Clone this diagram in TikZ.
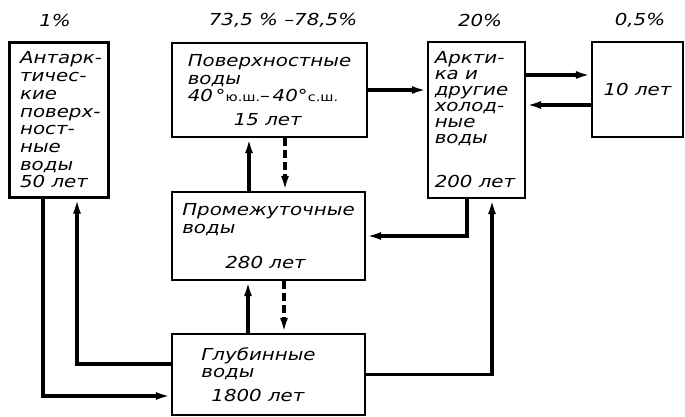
\documentclass[tikz,border=0pt]{standalone}
\usepackage{fontspec}
\newfontfamily\hand[FakeStretch=1.2]{DejaVu Sans}
\usetikzlibrary{arrows.meta}

\begin{document}
\begin{tikzpicture}[x=1pt, y=-1pt, >=latex,
          font=\hand\itshape\fontsize{16.5}{17.7}\selectfont,
          box/.style={draw, line width=2.2pt, align=left, inner sep=0pt, minimum width=#1},
          pct/.style={inner sep=0pt},
          flow/.style={line width=3.2pt, -{Latex[length=15pt,width=8pt]}},
          back/.style={flow, dash pattern=on 8pt off 4pt}]
        \useasboundingbox (0,0) rectangle (685,417);
        % boxes
        \node[box=99pt, minimum height=155pt] (ant) at (59,120)
          {\hspace*{4pt}Антарк-\\\hspace*{4pt}тичес-\\\hspace*{4pt}кие\\\hspace*{4pt}поверх-\\\hspace*{4pt}ност-\\\hspace*{4pt}ные\\\hspace*{4pt}воды\\\hspace*{4pt}50 лет};
        \node[box=195pt, minimum height=94pt] (surf) at (269.5,90)
          {Поверхностные\\воды\\40\,°{\fontsize{12}{14}\selectfont\upshape ю.ш.}–\,40°{\fontsize{12}{14}\selectfont\upshape с.ш.}\\[6pt]\hspace*{46pt}15 лет};
        \node[box=97pt, minimum height=156pt, font=\hand\itshape\fontsize{16.5}{16}\selectfont] (arc) at (476.5,120)
          {Аркти-\\ка и\\другие\\холод-\\ные\\воды\\[28pt]200 лет\hspace*{3pt}};
        \node[box=91pt, minimum height=95pt] (ten) at (637.5,89.5) {10 лет};
        \node[box=193pt, minimum height=88pt] (inter) at (268.5,236)
          {Промежуточные\\воды\\[17pt]\hspace*{43pt}280 лет};
        \node[box=193pt, minimum height=81pt] (deep) at (268.5,374.5)
          {Глубинные\hspace*{20pt}\\воды\\[6pt]\hspace*{10pt}1800 лет};
        % shares
        \node[pct] (p1) at (55,20) {1\%};
        \node[pct] (p2) at (283,20) {73,5 \% –78,5\%};
        \node[pct] (p3) at (480,20) {20\%};
        \node[pct] (p4) at (640,20) {0,5\%};
        % flows
        \draw[flow] (surf.east) -- (surf.east -| arc.west);
        \draw[flow] (arc.east |- 0,75) -- (ten.west |- 0,75);
        \draw[flow] (ten.west |- 0,105) -- (arc.east |- 0,105);
        \draw[flow] (arc.south -| 467,0) |- (inter.east);
        \draw[flow] (deep.east) -| (arc.south -| 492,0);
        \draw[flow] (inter.north -| 249,0) -- (surf.south -| 249,0);
        \draw[back] (surf.south -| 285,0) -- (inter.north -| 285,0);
        \draw[flow] (deep.north -| 248,0) -- (inter.south -| 248,0);
        \draw[back] (inter.south -| 284,0) -- (deep.north -| 284,0);
        \draw[flow] (deep.west |- 0,364) -| (ant.south -| 77,0);
        \draw[flow] (ant.south -| 43,0) |- (deep.west |- 0,396);
      \end{tikzpicture}
\end{document}
